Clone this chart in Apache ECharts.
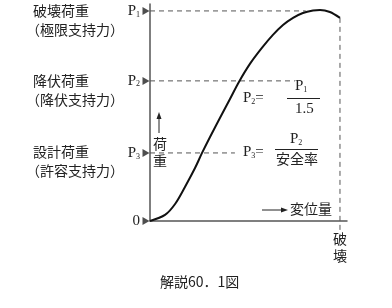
<!DOCTYPE html>
<html>
<head>
<meta charset="utf-8">
<script src="https://cdn.jsdelivr.net/npm/echarts@6/dist/echarts.min.js"></script>
<style>
  html, body { margin: 0; padding: 0; background: #fff; }
  #chart { width: 392px; height: 308px; }
</style>
</head>
<body>
<div id="chart"></div>
<script>
// load-displacement curve (displacement 0..100 = failure, load 0..100 = P1)
const dispX = [0, 7.9, 13.2, 18.4, 23.7, 27.4, 31.6, 36.8, 42.1, 46.8, 52.6, 58.9, 64.7, 70.0, 75.3, 80.5, 85.8, 89.5, 94.7, 100];
const loadY = [0, 2.9, 8.1, 16.2, 25.2, 32.4, 40.0, 49.0, 58.1, 66.2, 74.8, 82.4, 88.6, 93.3, 96.7, 99.0, 100.2, 100.5, 99.5, 96.7];

// load levels on the y axis
const levelNames = ['0', 'P3', 'P2', 'P1'];
const levelValues = [0, 32.4, 66.7, 100];
// where each dashed guide stops (P3, P2, P1)
const guideEnds = [44.7, 76.3, 82];
const failureX = 100;
const failureBottom = -7.6;

const serif = '"Liberation Serif", "DejaVu Serif", serif';
const jp = '"Noto Sans CJK JP", sans-serif';
const ink = '#222';
const grey = '#555';

const dom = document.getElementById('chart');
const myChart = echarts.init(dom, null, { renderer: 'canvas' });

const guideSeries = [];
for (let i = 1; i < levelValues.length; i++) {
  guideSeries.push({
    type: 'line',
    data: [[0, levelValues[i]], [guideEnds[i - 1], levelValues[i]]],
    symbol: 'none',
    silent: true,
    lineStyle: { color: grey, width: 1, type: [5, 4] },
    z: 1,
  });
}
guideSeries.push({
  type: 'line',
  data: [[failureX, loadY[loadY.length - 1]], [failureX, failureBottom]],
  symbol: 'none',
  silent: true,
  clip: false,
  lineStyle: { color: grey, width: 1, type: [5, 4] },
  z: 1,
});

const curve = dispX.map((x, i) => [x, loadY[i]]);

function leftText(x, y, text) {
  return {
    type: 'text', left: x, top: y,
    style: { text: text, font: '14px ' + jp, fill: ink },
  };
}

const subRich = {
  p: { font: '15px ' + serif, fill: ink },
  s: { font: '8px ' + serif, fill: ink, padding: [6, 0, 0, 0] },
};

const option = {
  animation: false,
  grid: { left: 150, right: 45, top: 4, bottom: 87 },
  xAxis: {
    type: 'value', min: 0, max: 103.7,
    axisLine: { lineStyle: { color: grey, width: 1.5 } },
    axisTick: { show: false },
    axisLabel: { show: false },
    splitLine: { show: false },
  },
  yAxis: {
    type: 'value', min: 0, max: 103.3,
    axisLine: { show: true, lineStyle: { color: grey, width: 1.5 } },
    axisTick: { show: false },
    splitLine: { show: false },
    axisLabel: {
      customValues: levelValues,
      margin: 10,
      formatter: (v) => {
        const idx = levelValues.indexOf(v);
        const name = levelNames[idx];
        if (name === '0') return '{p|0}';
        return '{p|P}{s|' + name.slice(1) + '}';
      },
      rich: {
        p: { fontFamily: serif, fontSize: 15, color: ink },
        s: { fontFamily: serif, fontSize: 8, color: ink, verticalAlign: 'bottom', padding: [6, 0, 0, 0] },
      },
    },
  },
  series: [
    ...guideSeries,
    {
      type: 'scatter',
      data: levelValues.map((v) => [0, v]),
      symbol: 'triangle',
      symbolSize: [8, 7],
      symbolRotate: -90,
      symbolOffset: [-4, 0],
      clip: false,
      silent: true,
      itemStyle: { color: ink },
      z: 3,
    },
    {
      type: 'line',
      data: curve,
      smooth: 0.3,
      symbol: 'none',
      lineStyle: { color: '#111', width: 2 },
      z: 2,
    },
  ],
  graphic: [
    leftText(33, 4, '破壊荷重'),
    leftText(26, 23, '（極限支持力）'),
    leftText(33, 74, '降伏荷重'),
    leftText(26, 93, '（降伏支持力）'),
    leftText(33, 145, '設計荷重'),
    leftText(26, 164, '（許容支持力）'),
    // 荷重 arrow
    {
      type: 'line', shape: { x1: 159, y1: 133, x2: 159, y2: 117 },
      style: { stroke: ink, lineWidth: 1 },
    },
    {
      type: 'polygon', shape: { points: [[159, 112], [156.5, 119], [161.5, 119]] },
      style: { fill: ink },
    },
    leftText(153, 137, '荷'),
    leftText(153, 154, '重'),
    // 変位量 arrow
    {
      type: 'line', shape: { x1: 262, y1: 210, x2: 282, y2: 210 },
      style: { stroke: ink, lineWidth: 1 },
    },
    {
      type: 'polygon', shape: { points: [[288, 210], [281, 207.5], [281, 212.5]] },
      style: { fill: ink },
    },
    leftText(290, 202, '変位量'),
    // failure label
    leftText(333, 232, '破'),
    leftText(333, 249, '壊'),
    // P2 = P1 / 1.5
    { type: 'text', left: 243, top: 91, style: { rich: subRich, text: '{p|P}{s|2}{p|=}' } },
    { type: 'text', left: 295, top: 79, style: { rich: subRich, text: '{p|P}{s|1}' } },
    {
      type: 'line', shape: { x1: 287, y1: 98.5, x2: 320, y2: 98.5 },
      style: { stroke: ink, lineWidth: 1 },
    },
    { type: 'text', left: 295, top: 102, style: { text: '1.5', font: '15px ' + serif, fill: ink } },
    // P3 = P2 / 安全率
    { type: 'text', left: 243, top: 145, style: { rich: subRich, text: '{p|P}{s|3}{p|=}' } },
    { type: 'text', left: 290, top: 132, style: { rich: subRich, text: '{p|P}{s|2}' } },
    {
      type: 'line', shape: { x1: 275, y1: 149.5, x2: 318, y2: 149.5 },
      style: { stroke: ink, lineWidth: 1 },
    },
    leftText(276, 152, '安全率'),
    // caption
    { type: 'text', left: 160, top: 275, style: { text: '解説60．1図', font: '14px ' + jp, fill: ink } },
  ],
};

myChart.setOption(option);
window.addEventListener('resize', myChart.resize);
</script>
</body>
</html>
